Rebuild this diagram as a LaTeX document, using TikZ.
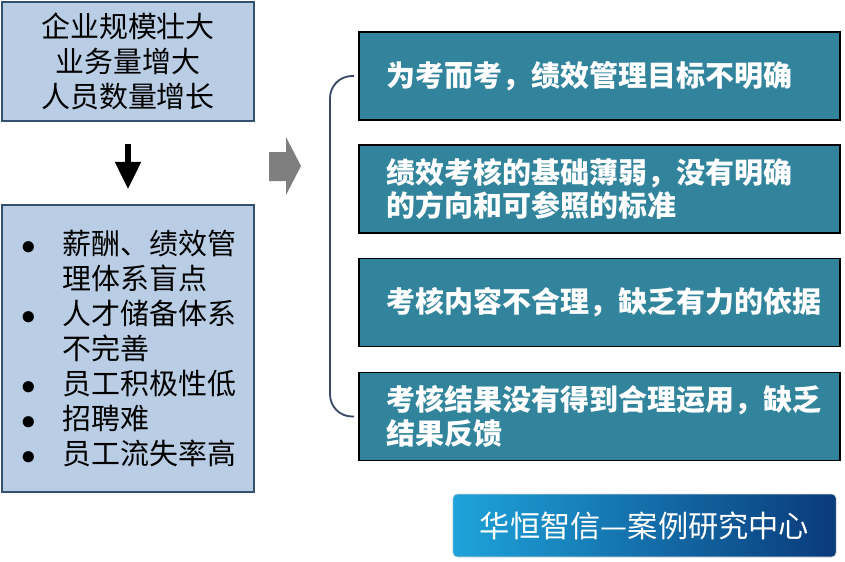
\documentclass[tikz,border=0pt]{standalone}
\usepackage{fontspec}
\setmainfont{Noto Sans CJK SC}
\usetikzlibrary{positioning, arrows.meta}
\definecolor{sbfill}{HTML}{B9CDE5}
\definecolor{sbline}{HTML}{34506F}
\definecolor{sbteal}{HTML}{31849B}
\definecolor{sbnavy}{HTML}{3A4A66}
\definecolor{sbgray}{HTML}{7F7F7F}
\definecolor{sbcyan}{HTML}{1EA3DA}
\definecolor{sbdeep}{HTML}{0A3A7A}
\newcommand{\bulletline}[1]{\makebox[1.075cm][l]{\hspace*{0.05cm}$\bullet$}#1}
\newcommand{\bulletcont}[1]{\hspace*{1.075cm}#1}

\begin{document}
\begin{tikzpicture}[x=0.025cm, y=-0.025cm,
    cause/.style={draw=sbline, line width=1.2pt, fill=sbfill, text=black,
                  minimum width=6.3cm, font={\fontsize{20.6}{24.9}\selectfont}},
    issue/.style={draw=black, line width=1.3pt, fill=sbteal, text=white,
                  align=left, text width=10.625cm, inner xsep=0.7cm, minimum height=2.2cm,
                  font={\bfseries\fontsize{20.6}{23.8}\selectfont}},
    banner/.style={draw=black!15, rounded corners=3pt, left color=sbcyan, right color=sbdeep,
                   text=white, minimum width=9.575cm, minimum height=1.575cm,
                   font={\fontsize{21.5}{24}\selectfont}}]
    \useasboundingbox (0,0) rectangle (845,561);
    % left side
    \node[cause, align=center, minimum height=2.975cm] (growth) at (128,61.5)
      {企业规模壮大\\业务量增大\\人员数量增长};
    \node[cause, align=left, text width=5.4cm, inner xsep=0.45cm, minimum height=7.175cm] (gaps) at (128,348.5)
      {\bulletline{薪酬、绩效管}\\\bulletcont{理体系盲点}\\\bulletline{人才储备体系}\\\bulletcont{不完善}\\%
       \bulletline{员工积极性低}\\\bulletline{招聘难}\\\bulletline{员工流失率高}};
    \draw[line width=4pt, -{Triangle[length=0.68cm, width=0.62cm]}]
      ([yshift=-0.55cm]growth.south) -- ([yshift=0.375cm]gaps.north);
    \fill[sbgray] (269,152) -- (286,152) -- (286,137) -- (301,166) -- (286,195)
      -- (286,181) -- (269,181) -- cycle;
    % right side
    \node[issue] (p1) at (599.5,76)    {为考而考，绩效管理目标不明确};
    \node[issue] (p2) at (599.5,189)   {绩效考核的基础薄弱，没有明确\\的方向和可参照的标准};
    \node[issue] (p3) at (599.5,302.5) {考核内容不合理，缺乏有力的依据};
    \node[issue] (p4) at (599.5,416.5) {考核结果没有得到合理运用，缺乏\\结果反馈};
    \draw[sbnavy, line width=1.3pt, rounded corners=0.55cm]
      ([xshift=-0.1cm]p1.west) -- ++(-0.6cm,0) |- ([xshift=-0.1cm]p4.west);
    \node[banner] (brand) at (644.5,525.5) {华恒智信—案例研究中心};
\end{tikzpicture}
\end{document}
